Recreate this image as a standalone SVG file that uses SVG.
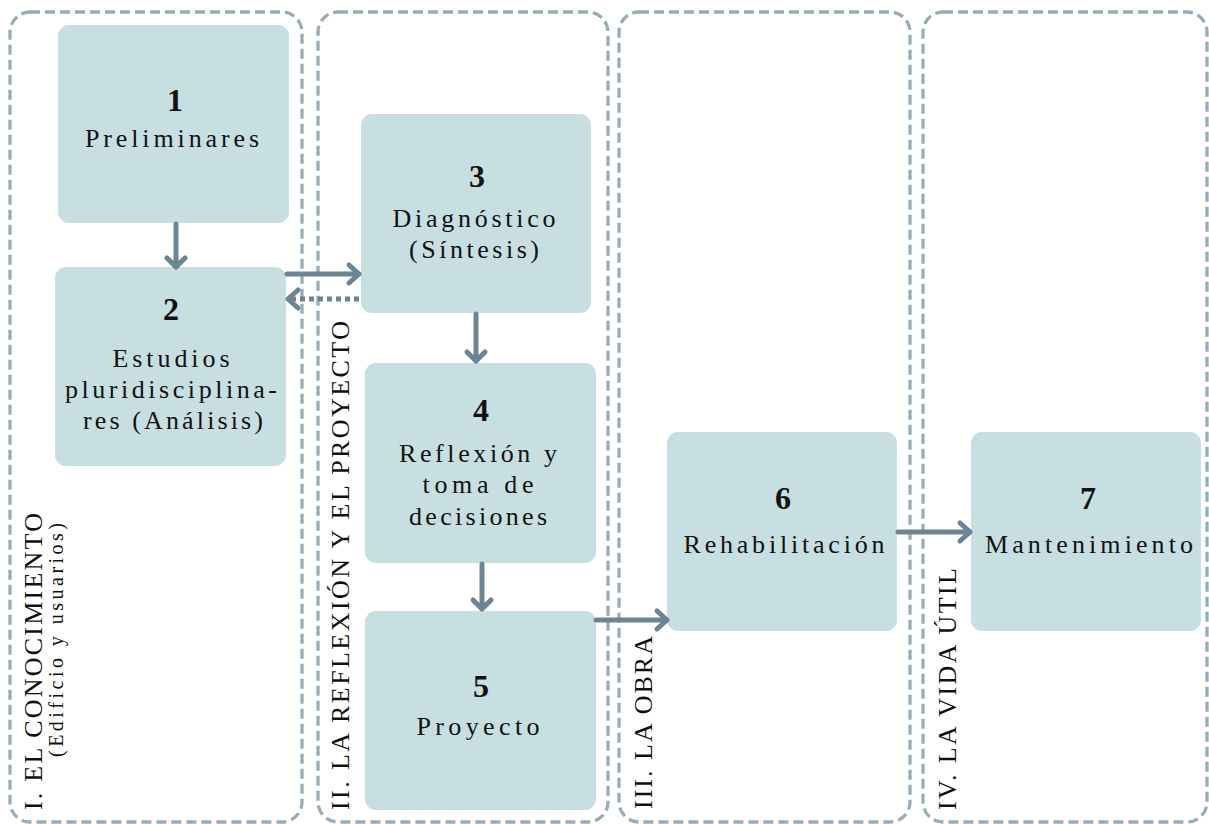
<svg xmlns="http://www.w3.org/2000/svg" width="1209" height="824" viewBox="0 0 1209 824">
  <style>
    .stage { fill: none; stroke: #97adb8; stroke-width: 3.3; stroke-dasharray: 10 5; }
    .box { fill: #c7dfe1; }
    .num { font-family: "Liberation Serif", "Times New Roman", serif; font-weight: bold; font-size: 32px; fill: #111; text-anchor: middle; }
    .lbl { font-family: "Liberation Serif", "Times New Roman", serif; font-size: 26px; fill: #111; text-anchor: middle; }
    .stg { font-family: "Liberation Serif", "Times New Roman", serif; font-size: 26px; fill: #111; }
    .sub { font-family: "Liberation Serif", "Times New Roman", serif; font-size: 20px; fill: #111; }
    .conn { fill: none; stroke: #6a8594; stroke-width: 5; stroke-linecap: round; stroke-linejoin: round; }
    .dot { stroke-dasharray: 5 4; stroke-linecap: butt; }
  </style>

  <!-- stage frames -->
  <g id="stages">
    <rect class="stage" x="10" y="12" width="292" height="810" rx="20"/>
    <rect class="stage" x="318" y="12" width="290" height="810" rx="20"/>
    <rect class="stage" x="619" y="12" width="291" height="810" rx="20"/>
    <rect class="stage" x="923" y="12" width="284" height="810" rx="20"/>
  </g>

  <!-- stage titles, read bottom to top -->
  <g id="stage-titles">
    <text class="stg" transform="translate(42,810) rotate(-90)" textLength="297" lengthAdjust="spacing">I. EL CONOCIMIENTO</text>
    <text class="sub" transform="translate(63,757) rotate(-90)" textLength="234" lengthAdjust="spacing">(Edificio y usuarios)</text>
    <text class="stg" transform="translate(349,810) rotate(-90)" textLength="489" lengthAdjust="spacing">II. LA REFLEXIÓN Y EL PROYECTO</text>
    <text class="stg" transform="translate(652,809) rotate(-90)" textLength="173" lengthAdjust="spacing">III. LA OBRA</text>
    <text class="stg" transform="translate(956,810) rotate(-90)" textLength="242" lengthAdjust="spacing">IV. LA VIDA ÚTIL</text>
  </g>

  <g id="node1">
    <rect class="box" x="58" y="25" width="231" height="198" rx="11"/>
    <text class="num" x="175" y="111">1</text>
    <text class="lbl" x="172" y="147" textLength="174" lengthAdjust="spacing">Preliminares</text>
  </g>

  <g id="node2">
    <rect class="box" x="55" y="267" width="231" height="199" rx="11"/>
    <text class="num" x="171" y="320">2</text>
    <text class="lbl" x="171" y="367" textLength="117" lengthAdjust="spacing">Estudios</text>
    <text class="lbl" x="171" y="398" textLength="212" lengthAdjust="spacing">pluridisciplina-</text>
    <text class="lbl" x="173" y="429" textLength="180" lengthAdjust="spacing">res (Análisis)</text>
  </g>

  <g id="node3">
    <rect class="box" x="361" y="114" width="230" height="199" rx="11"/>
    <text class="num" x="477" y="187">3</text>
    <text class="lbl" x="474" y="227" textLength="163" lengthAdjust="spacing">Diagnóstico</text>
    <text class="lbl" x="474" y="258" textLength="130" lengthAdjust="spacing">(Síntesis)</text>
  </g>

  <g id="node4">
    <rect class="box" x="365" y="363" width="231" height="200" rx="11"/>
    <text class="num" x="481" y="421">4</text>
    <text class="lbl" x="478" y="462" textLength="158" lengthAdjust="spacing">Reflexión y</text>
    <text class="lbl" x="478" y="493" textLength="111" lengthAdjust="spacing">toma de</text>
    <text class="lbl" x="478" y="525" textLength="138" lengthAdjust="spacing">decisiones</text>
  </g>

  <g id="node5">
    <rect class="box" x="365" y="611" width="231" height="199" rx="11"/>
    <text class="num" x="481" y="697">5</text>
    <text class="lbl" x="478" y="735" textLength="123" lengthAdjust="spacing">Proyecto</text>
  </g>

  <g id="node6">
    <rect class="box" x="667" y="432" width="230" height="199" rx="11"/>
    <text class="num" x="783" y="509">6</text>
    <text class="lbl" x="784" y="553" textLength="201" lengthAdjust="spacing">Rehabilitación</text>
  </g>

  <g id="node7">
    <rect class="box" x="971" y="432" width="230" height="199" rx="11"/>
    <text class="num" x="1088" y="509">7</text>
    <text class="lbl" x="1089" y="553" textLength="208" lengthAdjust="spacing">Mantenimiento</text>
  </g>

  <!-- connectors with open chevron heads -->
  <g id="connectors">
    <path class="conn" d="M176 224 V267 M167 258 L176 267 L185 258"/>
    <path class="conn" d="M287 274 H359 M349 265 L359 274 L349 283"/>
    <path class="conn dot" d="M359 299 H290"/>
    <path class="conn" d="M298 290 L288 299 L298 308"/>
    <path class="conn" d="M476 314 V361 M467 352 L476 361 L485 352"/>
    <path class="conn" d="M482 564 V609 M473 600 L482 609 L491 600"/>
    <path class="conn" d="M596 620 H667 M657 611 L667 620 L657 629"/>
    <path class="conn" d="M898 532 H970 M960 523 L970 532 L960 541"/>
  </g>
</svg>
